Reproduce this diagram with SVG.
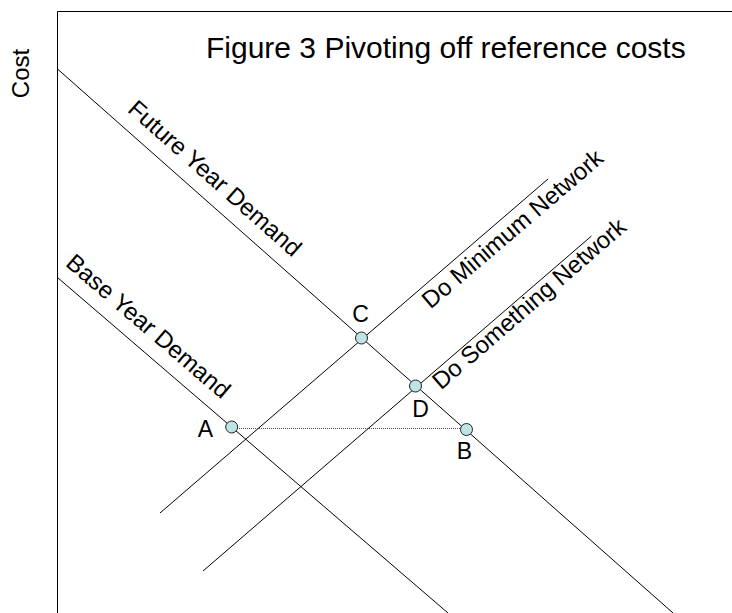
<svg xmlns="http://www.w3.org/2000/svg" width="732" height="613" viewBox="0 0 732 613">
<style>
  text { font-family: "Liberation Sans", Arial, sans-serif; fill: #000; }
  .lbl { font-size: 24px; }
  .pt { font-size: 23px; text-anchor: middle; }
  .ln { stroke: #000; stroke-width: 1; fill: none; }
  .dot { fill: #bde3e3; stroke: #222; stroke-width: 1; }
</style>
<rect width="732" height="613" fill="#fff"/>
<g id="axes">
  <path class="ln" d="M57.5 613 V11.5 H732"/>
  <text x="206" y="58" style="font-size:30px">Figure 3 Pivoting off reference costs</text>
  <text transform="translate(28.5,73.5) rotate(-90)" text-anchor="middle" style="font-size:24px">Cost</text>
</g>
<g id="connectors">
  <line class="ln" x1="57.5" y1="69" x2="673" y2="613"/>
  <line class="ln" x1="57.5" y1="277.5" x2="448" y2="613"/>
  <line class="ln" x1="160" y1="513" x2="548" y2="179"/>
  <line class="ln" x1="203" y1="571" x2="591.5" y2="236"/>
  <line x1="237" y1="428.5" x2="461" y2="428.5" stroke="#555" stroke-width="1" stroke-dasharray="1 1"/>
</g>
<g id="line-labels">
  <text class="lbl" transform="translate(126.5,111) rotate(41.5)">Future Year Demand</text>
  <text class="lbl" transform="translate(64.5,265) rotate(40.6)">Base Year Demand</text>
  <text class="lbl" transform="translate(430.5,309.5) rotate(-40.5)">Do Minimum Network</text>
  <text class="lbl" transform="translate(441,390.5) rotate(-40.8)">Do Something Network</text>
</g>
<g id="point-A">
  <circle class="dot" cx="231.7" cy="427" r="6"/>
  <text class="pt" x="205.5" y="437">A</text>
</g>
<g id="point-B">
  <circle class="dot" cx="466.5" cy="429.5" r="6"/>
  <text class="pt" x="464.5" y="459">B</text>
</g>
<g id="point-C">
  <circle class="dot" cx="361.5" cy="338" r="6"/>
  <text class="pt" x="360.5" y="322">C</text>
</g>
<g id="point-D">
  <circle class="dot" cx="415.5" cy="386" r="6"/>
  <text class="pt" x="420.5" y="417">D</text>
</g>
</svg>
